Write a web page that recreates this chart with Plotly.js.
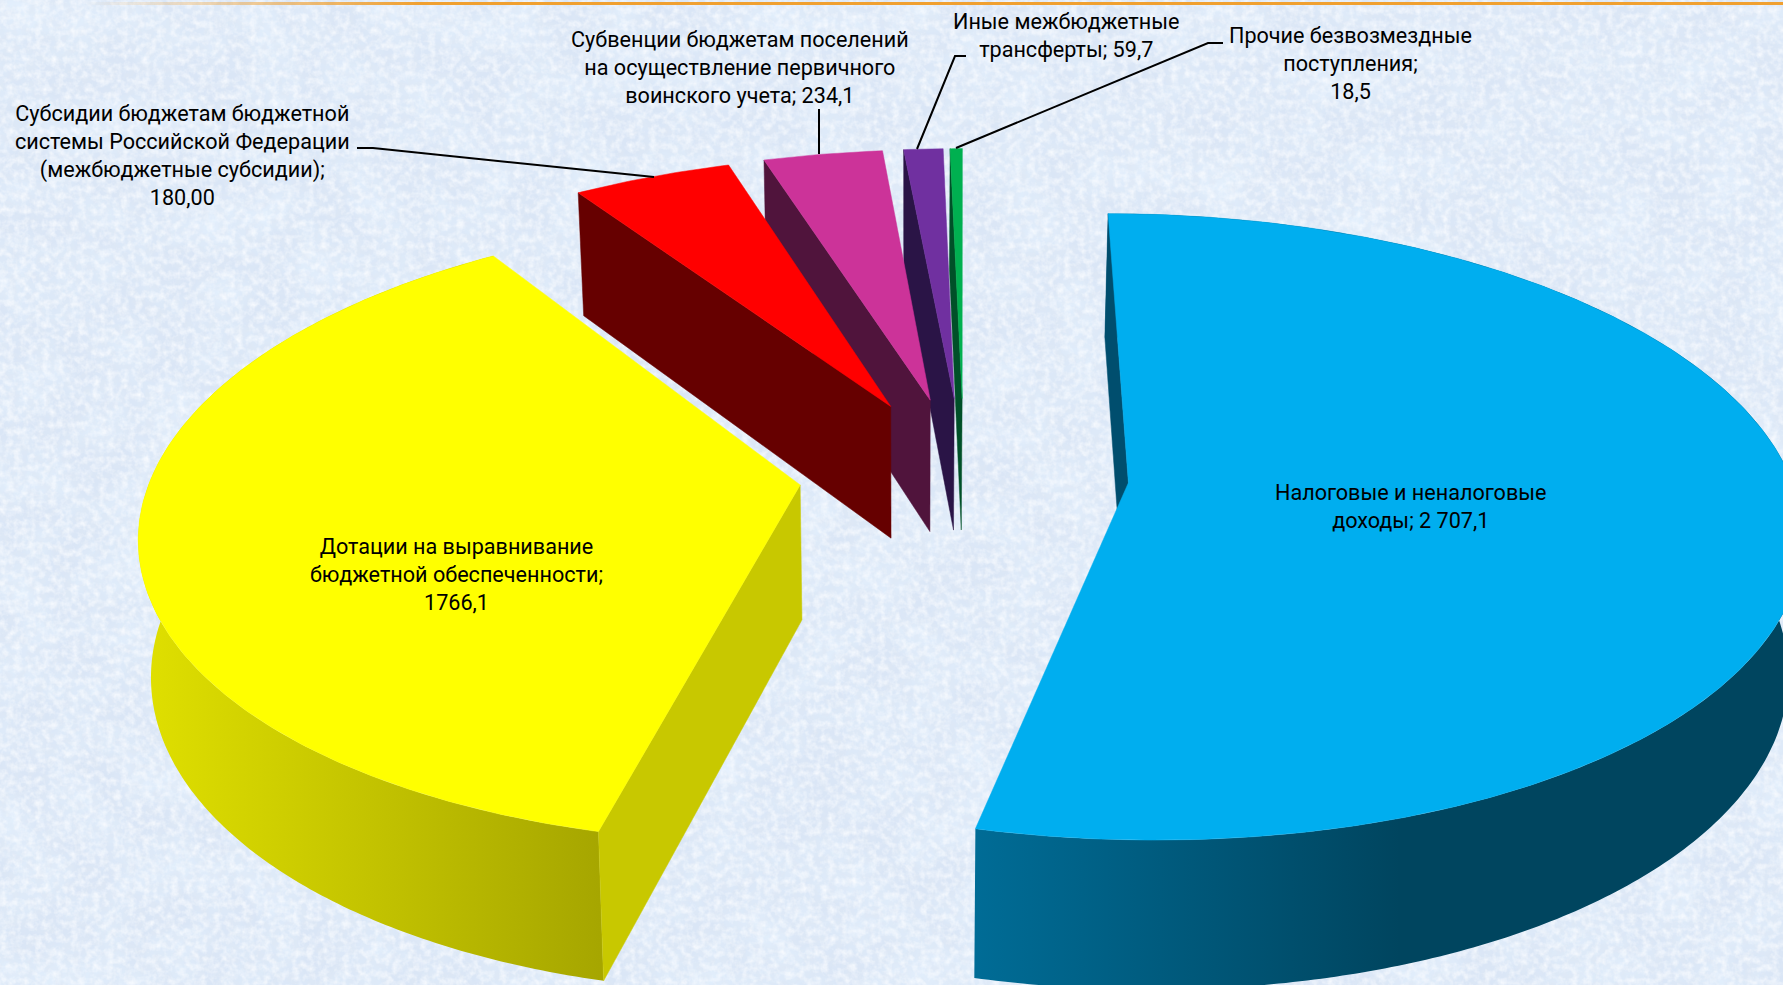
<!DOCTYPE html>
<html>
<head>
<meta charset="utf-8">
<script src="https://cdn.plot.ly/plotly-3.0.1.min.js"></script>
<style>
html,body{margin:0;padding:0;width:1783px;height:985px;overflow:hidden;background:#DDE9F7;}
#chart{position:absolute;left:0;top:0;width:1783px;height:985px;}
</style>
</head>
<body>
<div id="chart"></div>
<script>
// ---- data (drawing order, clockwise from 12 o'clock) ----
// The picture's red slice is visibly wider than the magenta one, so the drawn
// angles follow the picture while the label text stays as printed.
var sliceValues = [2707.1, 1766.1, 234.1, 180.0, 59.7, 18.5];
var sliceColors = ['#00AEEF', '#FFFF00', '#FF0000', '#CC3399', '#7030A0', '#00B050'];
var sideColors  = ['#004E6E', '#C8C800', '#660000', '#50143C', '#2A1446', '#005028'];
var rimScale    = [1, 0.98, 1, 1, 1, 1];
var labelTexts = [
  'Налоговые и неналоговые<br>доходы; 2 707,1',
  'Дотации на выравнивание<br>бюджетной обеспеченности;<br>1766,1',
  'Субсидии бюджетам бюджетной<br>системы Российской Федерации<br>(межбюджетные субсидии);<br>180,00',
  'Субвенции бюджетам поселений<br>на осуществление первичного<br>воинского учета; 234,1',
  'Иные межбюджетные<br>трансферты; 59,7',
  'Прочие безвозмездные<br>поступления;<br>18,5'
];
var labelX = [1411, 456, 182, 740, 1066, 1350];
var labelY = [506, 574, 155, 67, 35, 63];
var leaders = [
  [[357,148],[373,148],[654,177]],
  [[819,109],[819,154]],
  [[966,56],[955,56],[917,149]],
  [[1223,43],[1208,43],[956,148]]
];
// ---- projection of the tilted pie ----
var view = {cx:964, cy:472, t:661, s:304, k:0.14, explode:0.25, squeezeN:0.93, squeezeS:0.82, vx:910};
function proj(X,Y){var d=1+view.k*Y;return [view.cx+view.t*X/d, view.cy-view.s*Y/d];}
function lower(p){return [p[0]+(view.vx-p[0])*0.0165, p[1]+123+(p[1]-196)*0.0414];}
function drawnAngle(deg){
  var r=deg*Math.PI/180;
  var q=Math.cos(r)>=0?view.squeezeN:view.squeezeS;
  return Math.atan2(q*Math.sin(r),Math.cos(r));
}
var total=sliceValues.reduce(function(a,b){return a+b;},0);
var traces=[];
function poly(pts,color,grad){
  var t={type:'scatter',mode:'lines',x:pts.map(function(p){return p[0];}),y:pts.map(function(p){return p[1];}),
    fill:'toself',fillcolor:color,line:{width:0.5,color:color},hoverinfo:'skip',showlegend:false};
  if(grad){t.fillgradient=grad;t.line={width:0,color:color};t.mode='none';}
  traces.push(t);
}
var rimGrad={
  0:{type:'horizontal',start:975,stop:1400,colorscale:[[0,'#006C96'],[1,'#00455F']]},
  1:{type:'horizontal',start:140,stop:600,colorscale:[[0,'#E0E000'],[1,'#A6A600']]}
};
// angular extents
var spans=[],acc=0;
sliceValues.forEach(function(v){var a=acc;acc+=v/total*360;spans.push([a,acc]);});
function slicePts(i){
  var a0=spans[i][0],a1=spans[i][1],mid=(a0+a1)/2*Math.PI/180;
  var ax=view.explode*Math.sin(mid),ay=view.explode*Math.cos(mid);
  var arc=[],n=Math.max(8,Math.round((a1-a0)*1.5));
  for(var j=0;j<=n;j++){
    var r=drawnAngle(a0+(a1-a0)*j/n);
    arc.push(proj(ax+rimScale[i]*Math.sin(r),ay+Math.cos(r)));
  }
  return {apex:proj(ax,ay),arc:arc};
}
// painter's order: right-hand thin slices first, then to the front
[5,4,3,2,1,0].forEach(function(i){
  var g=slicePts(i),A=g.apex,arc=g.arc,O=arc[0];
  if(i<2){
    var rim=arc.concat(arc.map(lower).reverse());
    poly(rim,rimGrad[i].colorscale[0][1],rimGrad[i]);
  }
  poly([O,A,lower(A),lower(O),O],sideColors[i]);
  poly([A].concat(arc).concat([A]),sliceColors[i]);
});
// orange rule on top of the slide
traces.push({type:'scatter',mode:'none',x:[86,1783,1783,86,86],y:[2,2,5,5,2],fill:'toself',
  fillgradient:{type:'horizontal',start:86,stop:420,colorscale:[[0,'rgba(240,160,50,0)'],[1,'#F0A030']]},
  fillcolor:'#F0A030',hoverinfo:'skip',showlegend:false});
var shapes=leaders.map(function(l){
  return {type:'path',xref:'x',yref:'y',line:{color:'#000',width:2},
    path:l.map(function(p,i){return (i?'L':'M')+p[0]+','+p[1];}).join(' ')};
});
var annotations=labelTexts.map(function(t,i){
  return {text:t,x:labelX[i],y:labelY[i],xref:'x',yref:'y',showarrow:false,align:'center',
    xanchor:'center',yanchor:'middle',font:{family:'Roboto, sans-serif',size:21.6,color:'#000'}};
});
var layout={width:1783,height:985,margin:{l:0,r:0,t:0,b:0},paper_bgcolor:'rgba(0,0,0,0)',plot_bgcolor:'rgba(0,0,0,0)',
  showlegend:false,shapes:shapes,annotations:annotations,
  xaxis:{range:[0,1783],visible:false,fixedrange:true},
  yaxis:{range:[985,0],visible:false,fixedrange:true}};
// mottled slide paper behind the transparent plot
function noiseLayer(id,freq,octaves,seed,r,g,b,gain,bias){
  return '<filter id="'+id+'" x="0" y="0" width="100%" height="100%"><feTurbulence type="fractalNoise" baseFrequency="'+freq+'" numOctaves="'+octaves+'" seed="'+seed+'"/>'+
   '<feColorMatrix values="0 0 0 0 '+r+'  0 0 0 0 '+g+'  0 0 0 0 '+b+'  '+gain+' 0 0 0 '+bias+'"/></filter>'+
   '<rect width="1783" height="985" filter="url(#'+id+')"/>';
}
var svg='<svg xmlns="http://www.w3.org/2000/svg" width="1783" height="985">'+
 '<rect width="1783" height="985" fill="#DAE6F6"/>'+
 noiseLayer('a',0.02,3,5,0.78,0.88,0.99,1.6,-0.55)+
 noiseLayer('b',0.11,3,11,0.74,0.81,0.91,1.5,-0.55)+
 noiseLayer('c',0.14,3,23,0.95,0.97,1.0,1.6,-0.6)+
 '</svg>';
document.body.style.backgroundImage='url("data:image/svg+xml,'+encodeURIComponent(svg)+'")';
Plotly.newPlot('chart',traces,layout,{staticPlot:true,displayModeBar:false});
</script>
</body>
</html>
